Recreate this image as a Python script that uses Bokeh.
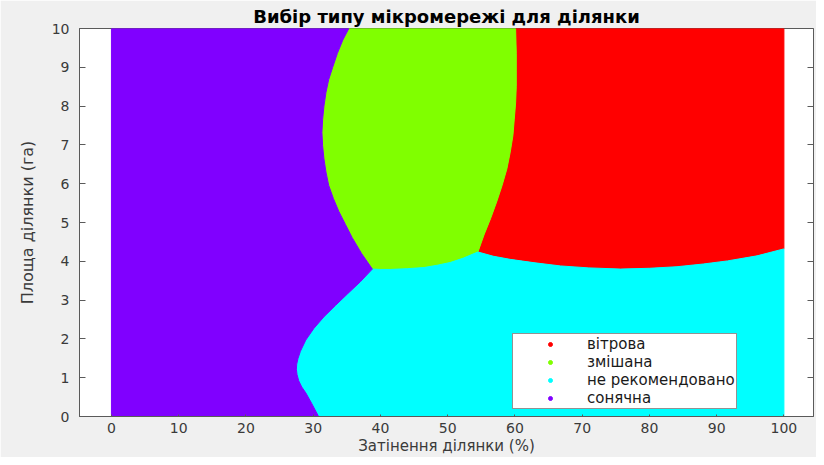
import numpy as np
from bokeh.plotting import figure
from bokeh.models import Range1d, LinearAxis, FixedTicker, Legend, LegendItem
from bokeh.embed import file_html
from bokeh.resources import INLINE

# ---- data ----
classes = ["вітрова", "змішана", "не рекомендовано", "сонячна"]
class_colors = ["#ff0000", "#80ff00", "#00ffff", "#8000ff"]

x_ticks = [0, 10, 20, 30, 40, 50, 60, 70, 80, 90, 100]
y_ticks = [0, 1, 2, 3, 4, 5, 6, 7, 8, 9, 10]

x_min, x_max = 0, 100
y_min, y_max = 0, 10

# boundary сонячна / змішана (top -> triple point)
b_sun_mix_x = [35.3, 34.4, 33.6, 32.9, 32.3, 31.9, 31.6, 31.4, 31.3, 31.4, 31.6, 31.9, 32.3, 33.0, 33.8, 34.8, 35.8, 37.2, 38.8]
b_sun_mix_y = [10.0, 9.7, 9.36, 9.0, 8.68, 8.35, 8.0, 7.65, 7.32, 6.98, 6.64, 6.3, 5.96, 5.62, 5.29, 4.95, 4.61, 4.2, 3.80]

# boundary сонячна / не рекомендовано (triple point -> bottom)
b_sun_none_x = [38.8, 37.0, 35.1, 33.3, 31.6, 30.1, 28.9, 28.1, 27.75, 27.55, 27.5, 27.6, 27.85, 28.3, 28.9, 29.8, 30.8]
b_sun_none_y = [3.80, 3.47, 3.16, 2.86, 2.57, 2.27, 1.97, 1.68, 1.50, 1.35, 1.22, 1.08, 0.92, 0.76, 0.61, 0.33, 0.0]

# boundary змішана / не рекомендовано (triple point -> triple point)
b_mix_none_x = [38.8, 40.0, 41.5, 44.0, 46.5, 48.5, 50.4, 52.3, 54.5]
b_mix_none_y = [3.80, 3.79, 3.79, 3.81, 3.84, 3.90, 3.97, 4.08, 4.24]

# boundary змішана / вітрова (bottom triple point -> top)
b_mix_wind_x = [54.5, 55.4, 56.4, 57.3, 58.1, 58.8, 59.3, 59.7, 59.9, 60.1, 60.2, 60.2, 60.2, 60.1]
b_mix_wind_y = [4.24, 4.68, 5.11, 5.54, 5.96, 6.38, 6.81, 7.24, 7.66, 8.08, 8.51, 8.93, 9.36, 10.0]

# boundary вітрова / не рекомендовано (triple point -> right edge)
b_wind_none_x = [54.5, 56.8, 59.3, 63.0, 66.8, 71.0, 75.7, 80.0, 84.1, 88.0, 91.6, 96.0, 100.0]
b_wind_none_y = [4.24, 4.13, 4.05, 3.96, 3.88, 3.83, 3.80, 3.82, 3.86, 3.93, 4.01, 4.14, 4.32]


# ---- build the region polygons from the boundaries ----
def rev(a):
    return list(a)[::-1]


sun_x = [x_min] + rev(b_sun_none_x) + rev(b_sun_mix_x)[1:] + [x_min]
sun_y = [y_min] + rev(b_sun_none_y) + rev(b_sun_mix_y)[1:] + [y_max]

none_x = [b_sun_none_x[-1], x_max, x_max] + rev(b_wind_none_x)[1:] + rev(b_mix_none_x)[1:] + list(b_sun_none_x)[1:]
none_y = [y_min, y_min, b_wind_none_y[-1]] + rev(b_wind_none_y)[1:] + rev(b_mix_none_y)[1:] + list(b_sun_none_y)[1:]

mix_x = list(b_sun_mix_x) + list(b_mix_none_x)[1:] + list(b_mix_wind_x)[1:]
mix_y = list(b_sun_mix_y) + list(b_mix_none_y)[1:] + list(b_mix_wind_y)[1:]

wind_x = list(b_mix_wind_x) + [x_max] + rev(b_wind_none_x)[:-1]
wind_y = list(b_mix_wind_y) + [y_max] + rev(b_wind_none_y)[:-1]

W, H = 816, 457
p = figure(width=W, height=H, output_backend="svg", toolbar_location=None,
           x_range=Range1d(-4.75, 104.4), y_range=Range1d(y_min, y_max),
           min_border_left=79, min_border_right=3, min_border_top=28, min_border_bottom=40)

p.border_fill_color = "#f0f0f0"
p.background_fill_color = "white"
p.outline_line_color = "#5a5a5a"
p.outline_line_width = 1
p.xgrid.grid_line_color = None
p.ygrid.grid_line_color = None

regions = [(wind_x, wind_y), (mix_x, mix_y), (none_x, none_y), (sun_x, sun_y)]
for (rx, ry), col in zip(regions, class_colors):
    p.patch(rx, ry, fill_color=col, line_color=col, line_width=1)

# legend renderers (dots, no visible data point)
items = []
for name, col in zip(classes, class_colors):
    r = p.scatter(x=np.array([np.nan]), y=np.array([np.nan]), marker="circle", size=4,
                  fill_color=col, line_color=col)
    items.append(LegendItem(label=name, renderers=[r]))

leg = Legend(items=items, location=(433, 7))
leg.label_text_font = "DejaVu Sans"
leg.label_text_font_size = "15px"
leg.label_text_color = "#1a1a1a"
leg.border_line_color = "#262626"
leg.border_line_width = 1
leg.background_fill_color = "white"
leg.background_fill_alpha = 1
leg.padding = 1
leg.spacing = 0
leg.margin = 0
leg.glyph_width = 72
leg.glyph_height = 10
leg.label_height = 17
leg.label_standoff = 1
p.add_layout(leg, "center")

# title
p.title.text = "Вибір типу мікромережі для ділянки"
p.title.align = "center"
p.title.text_font = "DejaVu Sans"
p.title.text_font_style = "bold"
p.title.text_font_size = "18px"
p.title.text_color = "#000000"
p.title.standoff = 3
p.title.offset = 0

# axes
ax_col = "#5a5a5a"
lbl_col = "#3a3a3a"
for ax in (p.xaxis[0], p.yaxis[0]):
    ax.axis_line_color = ax_col
    ax.major_tick_line_color = ax_col
    ax.major_tick_out = 0
    ax.minor_tick_line_color = None
    ax.major_label_text_font = "DejaVu Sans"
    ax.major_label_text_font_size = "14px"
    ax.major_label_text_color = lbl_col
    ax.axis_label_text_font = "DejaVu Sans"
    ax.axis_label_text_font_style = "normal"
    ax.axis_label_text_font_size = "15px"
    ax.axis_label_text_color = lbl_col

p.xaxis[0].ticker = FixedTicker(ticks=x_ticks)
p.yaxis[0].ticker = FixedTicker(ticks=y_ticks)
p.xaxis[0].major_tick_in = 2
p.yaxis[0].major_tick_in = 6
p.xaxis[0].major_label_standoff = 6
p.yaxis[0].major_label_standoff = 10
p.xaxis[0].axis_label = "Затінення ділянки (%)"
p.yaxis[0].axis_label = "Площа ділянки (га)"
p.yaxis[0].axis_label_text_font_size = "16px"
p.xaxis[0].axis_label_standoff = 1
p.yaxis[0].axis_label_standoff = 12

right = LinearAxis(ticker=FixedTicker(ticks=y_ticks), axis_line_color=None,
                   major_tick_line_color=ax_col, major_tick_in=6, major_tick_out=0,
                   minor_tick_line_color=None,
                   major_label_overrides={t: "" for t in y_ticks},
                   major_label_text_color=None,
                   major_label_standoff=0)
p.add_layout(right, "right")

open("out.html", "w").write(file_html(p, INLINE))
